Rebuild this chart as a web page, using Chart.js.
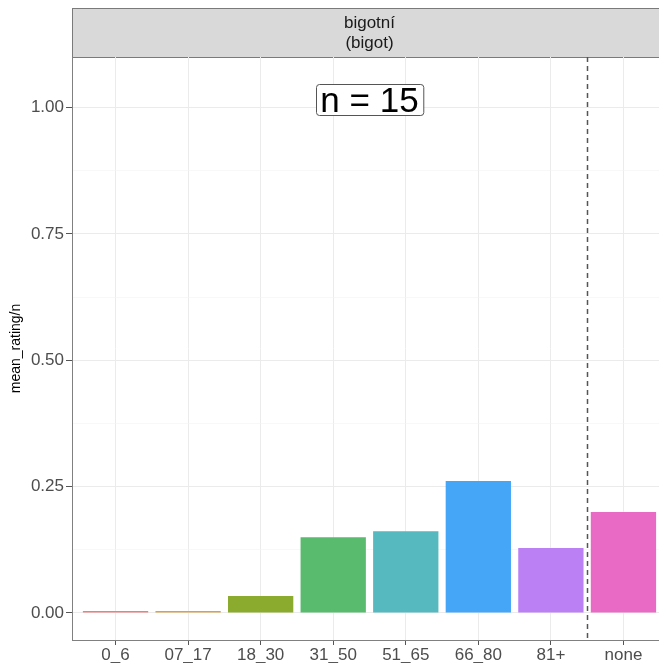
<!DOCTYPE html>
<html>
<head>
<meta charset="utf-8">
<script src="https://cdn.jsdelivr.net/npm/chart.js@4.4.0/dist/chart.umd.min.js"></script>
<style>
  html, body { margin: 0; padding: 0; background: #fff; overflow: hidden; }
  #wrap { position: relative; width: 659px; height: 663px; }
</style>
</head>
<body>
<div id="wrap"><canvas id="myChart"></canvas></div>
<script>
const categories = ['0_6', '07_17', '18_30', '31_50', '51_65', '66_80', '81+', 'none'];
const meanRating = [0.004, 0.004, 0.0336, 0.150, 0.1617, 0.261, 0.1286, 0.200];
const barColors = ['#F07C7C', '#D9A24A', '#8AAB2E', '#58BB6E', '#55B9BF', '#45A6F8', '#BC80F5', '#E96AC5'];
const yTicks = [0, 0.125, 0.25, 0.375, 0.5, 0.625, 0.75, 0.875, 1.0];
const stripLines = ['bigotní', '(bigot)'];
const nLabel = 'n = 15';
const dividerAt = 7.5;

const fontFamily = "'Liberation Sans', Arial, sans-serif";

function isMajor(v) {
    return Math.abs(v * 4 - Math.round(v * 4)) < 1e-6;
}

const decorations = {
    id: 'decorations',
    beforeDraw(chart) {
        const ctx = chart.ctx;
        const area = chart.chartArea;
        const xs = chart.scales.x;
        // facet strip
        ctx.save();
        ctx.fillStyle = '#D9D9D9';
        ctx.fillRect(area.left, 8, area.right - area.left + 10, area.top - 8);
        ctx.strokeStyle = '#7a7a7a';
        ctx.lineWidth = 1;
        ctx.strokeRect(area.left + 0.5, 8.5, area.right - area.left + 10, area.top - 8);
        ctx.fillStyle = '#1A1A1A';
        ctx.font = '17px ' + fontFamily;
        ctx.textAlign = 'center';
        ctx.textBaseline = 'middle';
        const cx = xs.getPixelForValue(4.5);
        ctx.fillText(stripLines[0], cx, 23);
        ctx.fillText(stripLines[1], cx, 43);
        ctx.restore();
    },
    afterDatasetsDraw(chart) {
        const ctx = chart.ctx;
        const area = chart.chartArea;
        const xs = chart.scales.x;
        const ys = chart.scales.y;
        // dashed divider
        ctx.save();
        const dx = Math.round(xs.getPixelForValue(dividerAt)) + 0.5;
        ctx.strokeStyle = '#555';
        ctx.lineWidth = 1.5;
        ctx.setLineDash([5, 4]);
        ctx.beginPath();
        ctx.moveTo(dx, area.top);
        ctx.lineTo(dx, area.bottom);
        ctx.stroke();
        ctx.setLineDash([]);
        // n label
        ctx.font = '35px ' + fontFamily;
        const tw = ctx.measureText(nLabel).width;
        const lx = xs.getPixelForValue(4.5);
        const ly = ys.getPixelForValue(1.015);
        const bw = tw + 9, bh = 31;
        ctx.fillStyle = '#fff';
        ctx.strokeStyle = '#555';
        ctx.lineWidth = 1;
        ctx.beginPath();
        ctx.roundRect(Math.round(lx - bw / 2) + 0.5, Math.round(ly - bh / 2) + 0.5, bw, bh, 3);
        ctx.fill();
        ctx.stroke();
        ctx.fillStyle = '#000';
        ctx.textAlign = 'center';
        ctx.textBaseline = 'middle';
        ctx.fillText(nLabel, lx, ly + 2);
        ctx.restore();
    }
};

const ctx = document.getElementById('myChart').getContext('2d');
const myChart = new Chart(ctx, {
    type: 'bar',
    data: {
        datasets: [{
            data: meanRating.map((v, i) => ({ x: i + 1, y: v })),
            backgroundColor: barColors,
            borderWidth: 0,
            barPercentage: 0.9,
            categoryPercentage: 1.0
        }]
    },
    options: {
        responsive: true,
        maintainAspectRatio: false,
        animation: false,
        layout: { padding: { top: 57, right: 0, bottom: 0, left: 0 } },
        plugins: {
            legend: { display: false },
            tooltip: { enabled: false }
        },
        scales: {
            x: {
                type: 'linear',
                offset: false,
                min: 0.4,
                max: 8.49,
                afterBuildTicks: function(scale) {
                    scale.ticks = categories.map((c, i) => ({ value: i + 1 }));
                },
                afterFit: function(scale) {
                    scale.height = 23;
                },
                ticks: {
                    font: { family: fontFamily, size: 17 },
                    color: '#4D4D4D',
                    padding: 0,
                    maxRotation: 0,
                    autoSkip: false,
                    callback: function(value) {
                        return categories[Math.round(value) - 1];
                    }
                },
                grid: {
                    offset: false,
                    color: '#EBEBEB',
                    lineWidth: 1,
                    drawTicks: true,
                    tickLength: 5,
                    tickColor: '#555'
                },
                border: { display: true, color: '#808080', width: 1 }
            },
            y: {
                min: -0.0535,
                max: 1.10,
                afterBuildTicks: function(scale) {
                    scale.ticks = yTicks.map(v => ({ value: v }));
                },
                afterFit: function(scale) {
                    scale.width = 72;
                },
                title: {
                    display: true,
                    text: 'mean_rating/n',
                    font: { family: fontFamily, size: 14 },
                    color: '#000',
                    padding: { top: 8, bottom: 0 }
                },
                ticks: {
                    font: { family: fontFamily, size: 17 },
                    color: '#4D4D4D',
                    padding: 2,
                    callback: function(value) {
                        return isMajor(value) ? value.toFixed(2) : '';
                    }
                },
                grid: {
                    color: function(c) {
                        return isMajor(c.tick.value) ? '#EBEBEB' : '#F4F4F4';
                    },
                    lineWidth: function(c) {
                        return isMajor(c.tick.value) ? 1 : 0.6;
                    },
                    drawTicks: true,
                    tickLength: 6,
                    tickColor: function(c) {
                        return isMajor(c.tick.value) ? '#555' : 'rgba(0,0,0,0)';
                    }
                },
                border: { display: true, color: '#808080', width: 1 }
            }
        }
    },
    plugins: [decorations]
});
</script>
</body>
</html>
